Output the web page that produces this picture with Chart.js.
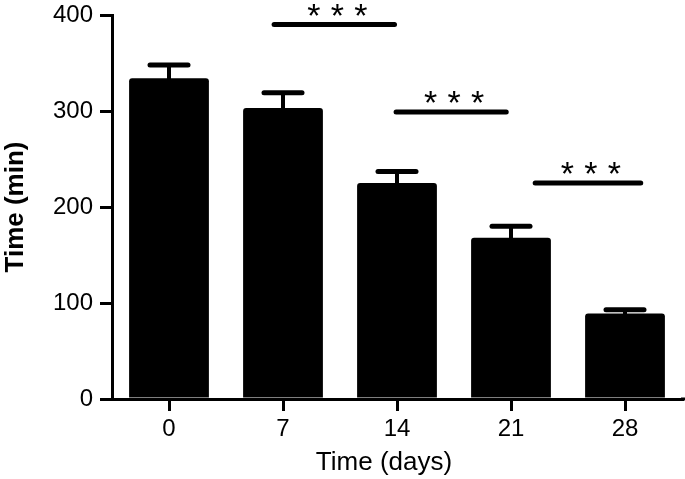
<!DOCTYPE html>
<html>
<head>
<meta charset="utf-8">
<script src="https://cdn.jsdelivr.net/npm/chart.js@4"></script>
<style>
  html, body { margin: 0; padding: 0; background: #fff; }
  #wrap { width: 685px; height: 479px; }
</style>
</head>
<body>
<div id="wrap"><canvas id="c" width="685" height="479"></canvas></div>
<script>
// ---- data ----
const categories = ['0', '7', '14', '21', '28'];
const meanValues = [334, 303, 225, 168, 89];
const upperError = [348, 319, 237, 180, 93];
const yTicks = [0, 100, 200, 300, 400];
// significance brackets (x in category units, y in minutes)
const sigFrom = [0.90, 1.97, 3.19];
const sigTo = [2.00, 2.98, 4.16];
const sigY = [390, 299, 225];
const sigLabel = ['***', '***', '***'];
const xTitle = 'Time (days)';

const FONT = "'Liberation Sans', Arial, Helvetica, sans-serif";

const overlay = {
  id: 'overlay',
  afterDatasetsDraw(chart) {
    const ctx = chart.ctx;
    const xs = chart.scales.x, ys = chart.scales.y;
    const meta = chart.getDatasetMeta(0);
    ctx.save();
    ctx.strokeStyle = '#000';
    ctx.fillStyle = '#000';
    // error bars
    meta.data.forEach((bar, i) => {
      const x = bar.x;
      const yTop = ys.getPixelForValue(upperError[i]);
      const yMean = ys.getPixelForValue(meanValues[i]);
      ctx.lineCap = 'butt';
      ctx.lineWidth = 4;
      ctx.beginPath();
      ctx.moveTo(x, yMean + 2);
      ctx.lineTo(x, yTop);
      ctx.stroke();
      ctx.lineCap = 'round';
      ctx.lineWidth = 5;
      ctx.beginPath();
      ctx.moveTo(x - 19, yTop);
      ctx.lineTo(x + 19, yTop);
      ctx.stroke();
    });
    // significance lines
    const step = xs.getPixelForValue(1) - xs.getPixelForValue(0);
    const x0 = xs.getPixelForValue(0);
    sigFrom.forEach((f, i) => {
      const xa = x0 + f * step;
      const xb = x0 + sigTo[i] * step;
      const y = ys.getPixelForValue(sigY[i]);
      ctx.lineCap = 'round';
      ctx.lineWidth = 5;
      ctx.beginPath();
      ctx.moveTo(xa + 2.5, y);
      ctx.lineTo(xb - 2.5, y);
      ctx.stroke();
      const cx = (xa + xb) / 2 + 3;
      ctx.font = '34px ' + FONT;
      ctx.textAlign = 'center';
      ctx.textBaseline = 'alphabetic';
      const chars = sigLabel[i].split('');
      chars.forEach((ch, k) => {
        const off = (k - (chars.length - 1) / 2) * 23.5;
        ctx.fillText(ch, cx + off, y + 2);
      });
    });
    // extend x axis line to the right edge
    ctx.lineCap = 'butt';
    ctx.lineWidth = 3;
    ctx.beginPath();
    ctx.moveTo(chart.chartArea.right - 1, ys.getPixelForValue(0));
    ctx.lineTo(chart.width, ys.getPixelForValue(0));
    ctx.stroke();
    // x axis title
    ctx.font = '26px ' + FONT;
    ctx.textAlign = 'center';
    ctx.textBaseline = 'middle';
    ctx.fillText(xTitle, (chart.chartArea.left + chart.chartArea.right) / 2 - 13, 463);
    ctx.restore();
  }
};

new Chart(document.getElementById('c'), {
  type: 'bar',
  data: {
    labels: categories,
    datasets: [{
      data: meanValues,
      backgroundColor: '#000',
      borderWidth: 0,
      borderRadius: 3,
      borderSkipped: 'start',
      barPercentage: 0.70,
      categoryPercentage: 1.0
    }]
  },
  options: {
    responsive: false,
    animation: false,
    events: [],
    layout: { padding: { top: 15, right: 3, left: 0, bottom: 0 } },
    plugins: { legend: { display: false }, tooltip: { enabled: false } },
    scales: {
      x: {
        grid: { offset: false, drawOnChartArea: false, tickLength: 12, tickWidth: 3, lineWidth: 3, color: '#000' },
        border: { display: true, width: 3, color: '#000' },
        ticks: { color: '#000', font: { family: FONT, size: 24 }, padding: 4, maxRotation: 0 },
        title: { display: false },
        afterFit(s) { s.height = 80; s.paddingLeft = 0; s.paddingRight = 0; }
      },
      y: {
        min: 0, max: 400,
        afterBuildTicks(s) { s.ticks = yTicks.map(v => ({ value: v })); },
        grid: { drawOnChartArea: false, tickLength: 12, tickWidth: 3, lineWidth: 3, color: '#000' },
        border: { display: true, width: 3, color: '#000' },
        ticks: { color: '#000', font: { family: FONT, size: 24 }, padding: 7 },
        title: { display: true, text: 'Time (min)', color: '#000', font: { family: FONT, size: 26, weight: 'bold' }, padding: { top: 0, bottom: 0 } },
        afterFit(s) { s.width = 112; s.paddingTop = 0; s.paddingBottom = 0; }
      }
    }
  },
  plugins: [overlay]
});
</script>
</body>
</html>
